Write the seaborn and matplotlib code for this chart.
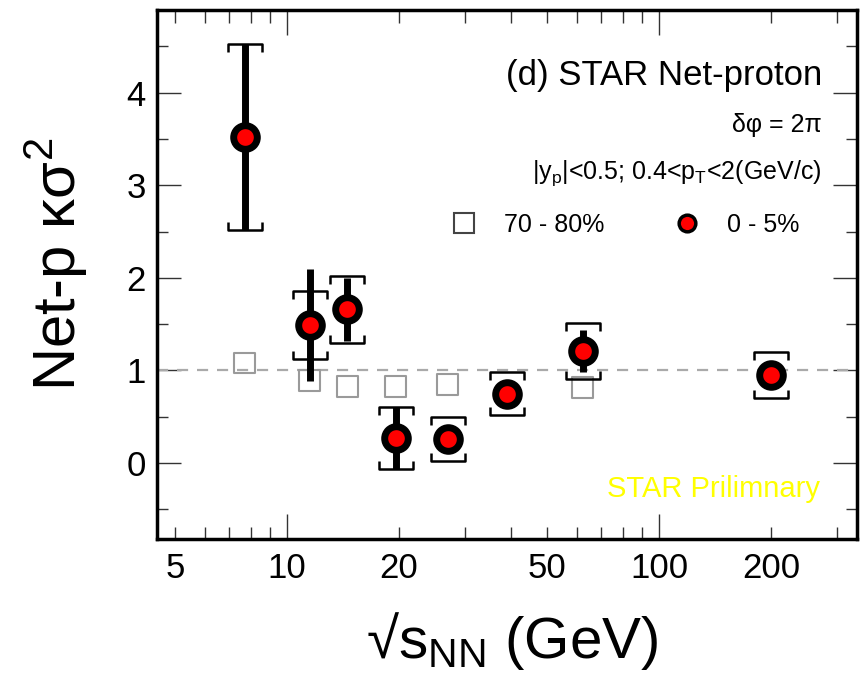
import numpy as np
import pandas as pd
import matplotlib
matplotlib.use('Agg')
import matplotlib.pyplot as plt
from matplotlib.path import Path
from matplotlib.lines import Line2D
from matplotlib.ticker import FixedLocator, FixedFormatter, MultipleLocator
import seaborn as sns

sns.set_style('ticks')
# fonts and colours have to be set after seaborn style
plt.rcParams['font.family'] = ['Liberation Sans', 'DejaVu Sans']
plt.rcParams['mathtext.fontset'] = 'custom'
plt.rcParams['mathtext.rm'] = 'Liberation Sans'
plt.rcParams['mathtext.it'] = 'Liberation Sans:italic'
plt.rcParams['mathtext.default'] = 'regular'
plt.rcParams['text.color'] = 'black'
plt.rcParams['axes.labelcolor'] = 'black'
plt.rcParams['xtick.labelcolor'] = 'black'
plt.rcParams['ytick.labelcolor'] = 'black'

# --- data ---
energy = [7.7, 11.5, 14.5, 19.6, 27, 39, 62.4, 200]
kurt_central = [3.52, 1.49, 1.66, 0.27, 0.26, 0.75, 1.21, 0.95]
stat_err = [1.00, 0.60, 0.34, 0.33, 0.15, 0.08, 0.23, 0.05]
sys_err = [1.00, 0.37, 0.36, 0.33, 0.24, 0.23, 0.30, 0.25]

energy_periph = [7.7, 11.5, 14.5, 19.6, 27, 62.4]
kurt_periph = [1.08, 0.89, 0.83, 0.83, 0.85, 0.82]

major_x = [10, 100]
major_x_labels = ['10', '100']
minor_x = [5, 6, 7, 8, 9, 20, 30, 40, 50, 60, 70, 80, 90, 200, 300]
minor_x_labels = ['5', '', '', '', '', '20', '', '', '50', '', '', '', '', '200', '']
y_ticks = [0, 1, 2, 3, 4]

central = pd.DataFrame({'energy': energy, 'kurt': kurt_central,
                        'stat': stat_err, 'sys': sys_err})
periph = pd.DataFrame({'energy': energy_periph, 'kurt': kurt_periph})

fig = plt.figure(figsize=(8.64, 6.78), dpi=100)
ax = fig.add_axes([0.1817, 0.205, 0.810, 0.780])
ax.set_xscale('log')

# reference line at unity
ax.axhline(1, color='#aaaaaa', lw=1.6, ls=(0, (5, 4)), zorder=1)

# 70-80% open squares
sns.scatterplot(data=periph, x='energy', y='kurt', marker='s', s=225,
                facecolor='none', edgecolor='#9a9a9a', linewidth=1.5,
                ax=ax, zorder=2, legend=False)

# systematic errors as brackets
top_bracket = Path([(-1, -0.5), (-1, 0), (1, 0), (1, -0.5)],
                   [Path.MOVETO, Path.LINETO, Path.LINETO, Path.LINETO])
bot_bracket = Path([(-1, 0.5), (-1, 0), (1, 0), (1, 0.5)],
                   [Path.MOVETO, Path.LINETO, Path.LINETO, Path.LINETO])
ax.plot(central['energy'], central['kurt'] + central['sys'], ls='none',
        marker=top_bracket, ms=24, mew=1.8, mfc='none', mec='k', zorder=3)
ax.plot(central['energy'], central['kurt'] - central['sys'], ls='none',
        marker=bot_bracket, ms=24, mew=1.8, mfc='none', mec='k', zorder=3)

# statistical errors
ax.errorbar(central['energy'], central['kurt'], yerr=central['stat'],
            fmt='none', ecolor='k', elinewidth=5, capsize=0, zorder=3)

# 0-5% filled circles
sns.scatterplot(data=central, x='energy', y='kurt', marker='o', s=289,
                color='red', edgecolor='black', linewidth=5,
                ax=ax, zorder=4, legend=False)

ax.set_xlim(4.47, 340)
ax.set_ylim(-0.82, 4.89)

# ROOT style ticks
ax.xaxis.set_major_locator(FixedLocator(major_x))
ax.xaxis.set_major_formatter(FixedFormatter(major_x_labels))
ax.xaxis.set_minor_locator(FixedLocator(minor_x))
ax.xaxis.set_minor_formatter(FixedFormatter(minor_x_labels))
ax.yaxis.set_major_locator(FixedLocator(y_ticks))
ax.yaxis.set_minor_locator(MultipleLocator(0.5))

ax.tick_params(axis='both', which='both', direction='in', top=True, right=True,
               width=1, color='#333333', labelcolor='black', labelsize=25)
ax.tick_params(axis='x', which='major', length=18, pad=9)
ax.tick_params(axis='x', which='minor', length=9, pad=9)
ax.tick_params(axis='y', which='major', length=17, pad=8)
ax.tick_params(axis='y', which='minor', length=8, pad=8)

for sp in ax.spines.values():
    sp.set_linewidth(2.5)
    sp.set_color('black')

ax.set_xlabel('√s$_{NN}$ (GeV)', fontsize=42, va='baseline', color='black')
ax.xaxis.set_label_coords(0.507, -0.225)
ax.set_ylabel('Net-p κσ$^{2}$', fontsize=43, va='center', color='black')
ax.yaxis.set_label_coords(-0.143, 0.52)

# annotations
ax.text(0.950, 0.858, '(d) STAR Net-proton', transform=ax.transAxes,
        ha='right', va='baseline', fontsize=25, color='black')
ax.text(0.950, 0.769, 'δφ = 2π', transform=ax.transAxes,
        ha='right', va='baseline', fontsize=18, color='black')
ax.text(0.950, 0.682, '|y$_p$|<0.5; 0.4<p$_T$<2(GeV/c)', transform=ax.transAxes,
        ha='right', va='baseline', fontsize=18, color='black')
ax.text(0.947, 0.0794, 'STAR Prilimnary', transform=ax.transAxes,
        ha='right', va='baseline', fontsize=21, color='#ffff00')

handles = [
    Line2D([], [], marker='s', ms=15, mfc='none', mec='#444444', mew=1.5, ls='none'),
    Line2D([], [], marker='o', ms=12, mfc='red', mec='k', mew=2.5, ls='none'),
]
leg = ax.legend(handles, ['70 - 80%', '0 - 5%'], ncol=2, loc='center left',
                bbox_to_anchor=(0.4207, 0.5936), frameon=False, fontsize=18,
                borderpad=0, borderaxespad=0, handlelength=1, handletextpad=1.1,
                columnspacing=2.8)
for t in leg.get_texts():
    t.set_color('black')

fig.savefig('out.png', dpi=100)
